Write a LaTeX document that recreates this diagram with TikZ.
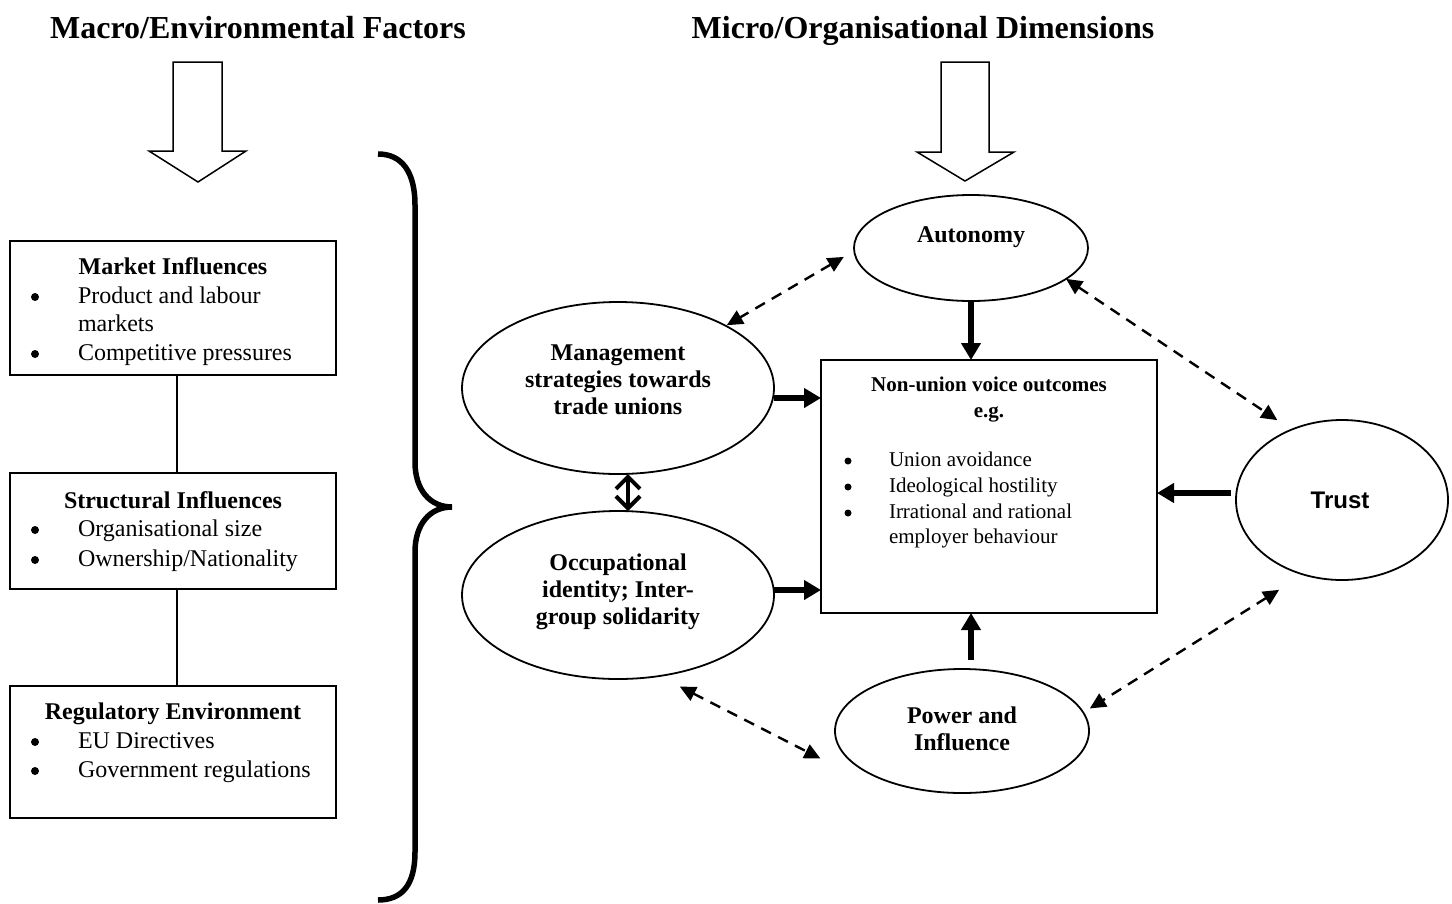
\documentclass[tikz,border=0pt]{standalone}
\usepackage{fontspec}
\setmainfont{Liberation Serif}
\newfontfamily\arialfont{Liberation Sans}
\usetikzlibrary{arrows.meta,shapes.geometric,calc}
\begin{document}
\begin{tikzpicture}[x=1pt,y=-1pt,
  every node/.style={inner sep=0pt, outer sep=0pt},
  boxnode/.style={draw, line width=1.6pt, rectangle},
  oval/.style={draw, line width=1.8pt, ellipse, inner sep=0pt},
  ttl/.style={font=\fontsize{32}{38}\selectfont\bfseries, anchor=base},
  btitle/.style={font=\fontsize{24}{28}\selectfont\bfseries, anchor=mid, yshift=-6pt},
  btext/.style={font=\fontsize{24}{28}\selectfont, anchor=mid west, yshift=-6pt},
  bdot/.style={circle, fill, minimum size=8pt, yshift=-2pt},
  stitle/.style={font=\fontsize{21}{25}\selectfont\bfseries, anchor=mid, yshift=-5pt},
  stext/.style={font=\fontsize{21}{25}\selectfont, anchor=mid west, yshift=-5pt},
  sdot/.style={circle, fill, minimum size=7pt, yshift=-2pt},
  etext/.style={font=\fontsize{24}{27}\selectfont\bfseries, align=center},
  bigarrow/.style={line width=5.5pt, -{Triangle[length=17pt,width=19pt]}},
  dasharrow/.style={line width=2.4pt, dash pattern=on 11pt off 8pt, {Triangle[length=16pt,width=15pt]}-{Triangle[length=16pt,width=15pt]}},
  dblarrow/.style={line width=4pt, {Straight Barb[length=12pt,width=24pt]}-{Straight Barb[length=12pt,width=24pt]}},
  linkline/.style={line width=1.4pt},
  blockarrow/.style={line width=1.5pt, line join=miter, fill=white},
  bracestyle/.style={line width=5.5pt}
]
\useasboundingbox (0,0) rectangle (1452,903);

% titles
\node[ttl] (t1) at (258,38) {Macro/Environmental Factors};
\node[ttl] (t2) at (923,38) {Micro/Organisational Dimensions};

% block arrows
\draw[blockarrow] (173,62) -- (222,62) -- (222,151) -- (246,151) -- (198,182) -- (149,151) -- (173,151) -- cycle;
\draw[blockarrow] (941,62) -- (989,62) -- (989,152) -- (1014,152) -- (965,181) -- (917,152) -- (941,152) -- cycle;

% left boxes
\node[boxnode, minimum width=326pt, minimum height=134pt] (b1) at (173,308) {};
\node[btitle] (b1t) at (173,266) {Market Influences};
\node[bdot] (b1d1) at (35,295) {};
\node[btext] (b1l1) at (78,295) {Product and labour};
\node[btext] (b1l2) at (78,323) {markets};
\node[bdot] (b1d2) at (35,352) {};
\node[btext] (b1l3) at (78,352) {Competitive pressures};

\node[boxnode, minimum width=326pt, minimum height=116pt] (b2) at (173,531) {};
\node[btitle] (b2t) at (173,500) {Structural Influences};
\node[bdot] (b2d1) at (35,528) {};
\node[btext] (b2l1) at (78,528) {Organisational size};
\node[bdot] (b2d2) at (35,558) {};
\node[btext] (b2l2) at (78,558) {Ownership/Nationality};

\node[boxnode, minimum width=326pt, minimum height=132pt] (b3) at (173,752) {};
\node[btitle] (b3t) at (173,711) {Regulatory Environment};
\node[bdot] (b3d1) at (35,740) {};
\node[btext] (b3l1) at (78,740) {EU Directives};
\node[bdot] (b3d2) at (35,769) {};
\node[btext] (b3l2) at (78,769) {Government regulations};

\draw[linkline] ([xshift=4pt]b1.south) -- ([xshift=4pt]b2.north);
\draw[linkline] ([xshift=4pt]b2.south) -- ([xshift=4pt]b3.north);

% brace
\draw[bracestyle] (378,154) .. controls (402,154) and (415,172) .. (415,205) -- (415,462)
  .. controls (415,490) and (430,507) .. (452,507)
  .. controls (430,507) and (415,524) .. (415,552) -- (415,852)
  .. controls (415,885) and (402,900) .. (378,900);

% right side
\node[oval, minimum width=234pt, minimum height=106pt] (auto) at (971,248) {};
\node[etext] (autot) at (971,237) {Autonomy};
\node[oval, minimum width=312pt, minimum height=172pt] (mgmt) at (618,388) {};
\node[etext] (mgmtt) at (618,380) {Management\\strategies towards\\trade unions};
\node[oval, minimum width=312pt, minimum height=168pt] (occ) at (618,595) {};
\node[etext] (occt) at (618,592) {Occupational\\identity; Inter-\\group solidarity};
\node[oval, minimum width=254pt, minimum height=124pt] (power) at (962,731) {};
\node[etext] (powert) at (962,729) {Power and\\Influence};
\node[oval, minimum width=212pt, minimum height=160pt] (trust) at (1342,500) {};
\node[font=\arialfont\fontsize{24}{28}\selectfont\bfseries] (trustt) at (1340,500) {Trust};

\node[boxnode, minimum width=336pt, minimum height=253pt] (nu) at (989,486.5) {};
\node[stitle] (nut) at (989,384) {Non-union voice outcomes};
\node[stitle] (nue) at (989,410) {e.g.};
\node[sdot] (nud1) at (848,459) {};
\node[stext] (nul1) at (889,459) {Union avoidance};
\node[sdot] (nud2) at (848,485) {};
\node[stext] (nul2) at (889,485) {Ideological hostility};
\node[sdot] (nud3) at (848,511) {};
\node[stext] (nul3) at (889,511) {Irrational and rational};
\node[stext] (nul4) at (889,536) {employer behaviour};

% solid arrows
\draw[bigarrow] (auto.south) -- (auto.south |- nu.north);
\coordinate (pw) at ([yshift=9pt]power.north);
\draw[bigarrow] (pw -| auto.south) -- (auto.south |- nu.south);
\draw[bigarrow] ([yshift=-10pt]mgmt.east) -- ([yshift=-10pt]mgmt.east -| nu.west);
\draw[bigarrow] ([yshift=5pt]occ.east) -- ([yshift=5pt]occ.east -| nu.west);
\draw[bigarrow] ([shift={(-5pt,7pt)}]trust.west) -- ([yshift=7pt]trust.west -| nu.east);
\draw[dblarrow] ([xshift=10pt]mgmt.south) -- ([xshift=10pt]occ.north);

% dashed arrows
\draw[dasharrow] ($(auto.center)!1.10!(auto.184)$) -- ($(mgmt.center)!1.01!(mgmt.30)$);
\draw[dasharrow] ($(auto.center)!1.0!(auto.342)$) -- ($(trust.center)!1.17!(trust.129)$);
\draw[dasharrow] ($(trust.center)!1.27!(trust.235)$) -- ($(power.center)!1.07!(power.10)$);
\draw[dasharrow] ($(occ.center)!1.16!(occ.304)$) -- ($(power.center)!1.2!(power.191)$);
\end{tikzpicture}
\end{document}
